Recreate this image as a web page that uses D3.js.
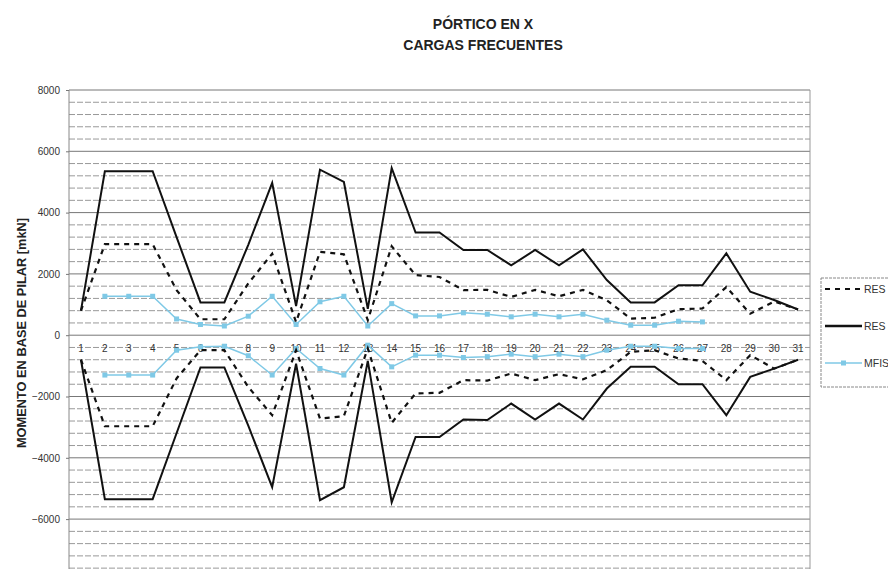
<!DOCTYPE html>
<html>
<head>
<meta charset="utf-8">
<script src="https://cdn.jsdelivr.net/npm/d3@7"></script>
<style>
  html, body { margin: 0; padding: 0; background: #fff; }
  svg { display: block; font-family: "Liberation Sans", Arial, sans-serif; }
</style>
</head>
<body>
<svg id="chart" width="888" height="569"></svg>
<script>
// ---- data ----
const categories = d3.range(1, 32).map(String);
const yTicks = [-6000, -4000, -2000, 0, 2000, 4000, 6000, 8000];

const resSolidPos = [800, 5350, 5350, 5350, 3200, 1070, 1070, 2950, 4970, 950, 5400, 5000, 860, 5450, 3350, 3350, 2780, 2780, 2280, 2780, 2280, 2800, 1800, 1070, 1070, 1630, 1630, 2670, 1420, 1150, 840];
const resSolidNeg = [-800, -5350, -5350, -5350, -3200, -1050, -1050, -2950, -4960, -930, -5380, -4960, -840, -5450, -3320, -3320, -2750, -2770, -2230, -2750, -2230, -2750, -1740, -1030, -1030, -1600, -1600, -2610, -1360, -1090, -800];
const resDashPos = [800, 2970, 2970, 2970, 1470, 520, 520, 1690, 2660, 430, 2720, 2640, 490, 2900, 1960, 1900, 1470, 1480, 1250, 1480, 1270, 1480, 1140, 540, 570, 850, 870, 1570, 700, 1100, 840];
const resDashNeg = [-800, -2970, -2970, -2970, -1410, -490, -490, -1690, -2610, -490, -2720, -2640, -434, -2860, -1900, -1880, -1467, -1480, -1250, -1467, -1270, -1440, -1140, -543, -490, -760, -840, -1467, -652, -1090, -800];
// MFIS starts at pilar 2 and ends at pilar 27
const mfisPos = [null, 1270, 1270, 1270, 530, 350, 300, 620, 1270, 350, 1090, 1270, 300, 1030, 630, 630, 730, 685, 600, 685, 600, 685, 490, 326, 326, 456, 434, null, null, null, null];
const mfisNeg = [null, -1300, -1300, -1300, -490, -380, -360, -670, -1300, -434, -1087, -1300, -326, -1032, -652, -652, -728, -700, -620, -700, -620, -700, -489, -360, -360, -434, -434, null, null, null, null];
const legendLabels = ["RES", "RES", "MFIS"];
const titleLines = ["PÓRTICO EN X", "CARGAS FRECUENTES"];
const yTitle = "MOMENTO EN BASE DE PILAR [mkN]";

// ---- layout ----
const svg = d3.select("#chart");
const plotLeft = 69, plotRight = 810, plotTop = 90;
const y = d3.scaleLinear().domain([-8000, 8000]).range([580.4, plotTop]);
const x = d3.scaleBand().domain(categories).range([plotLeft, plotRight]).paddingInner(0).paddingOuter(0);
const cx = c => x(c) + x.bandwidth() / 2;

// title
svg.append("g").selectAll("text").data(titleLines).join("text")
  .attr("x", 483).attr("y", (d, i) => 29 + i * 21)
  .attr("text-anchor", "middle")
  .attr("font-size", 14).attr("font-weight", "bold").attr("fill", "#222")
  .text(d => d);

// grid lines every 400
const gridVals = d3.range(-8000, 8001, 400);
svg.append("g").selectAll("line").data(gridVals).join("line")
  .attr("x1", plotLeft).attr("x2", plotRight)
  .attr("y1", d => y(d)).attr("y2", d => y(d))
  .attr("stroke", d => d % 2000 === 0 ? "#777" : "#999")
  .attr("stroke-width", 1)
  .attr("stroke-dasharray", d => d % 2000 === 0 ? null : "6,2");

// plot border
svg.append("line").attr("x1", plotLeft).attr("x2", plotLeft).attr("y1", plotTop).attr("y2", 569).attr("stroke", "#888");
svg.append("line").attr("x1", plotRight).attr("x2", plotRight).attr("y1", plotTop).attr("y2", 569).attr("stroke", "#999");

// y axis
const yAxis = d3.axisLeft(y).tickValues(yTicks).tickSize(3).tickPadding(6).tickFormat(d3.format("d"));
const gy = svg.append("g").attr("transform", `translate(${plotLeft},0)`).call(yAxis);
gy.select(".domain").remove();
gy.selectAll(".tick line").attr("stroke", "#777");
gy.selectAll(".tick text").attr("font-size", 10).attr("fill", "#333")
  .attr("font-family", "'Liberation Sans', Arial, sans-serif");

// y title
svg.append("text")
  .attr("transform", `translate(26,333) rotate(-90)`)
  .attr("text-anchor", "middle")
  .attr("font-size", 12.8).attr("font-weight", "bold").attr("fill", "#222")
  .text(yTitle);

// category labels near zero line
svg.append("g").selectAll("text").data(categories).join("text")
  .attr("x", d => cx(d)).attr("y", y(0) + 17)
  .attr("text-anchor", "middle").attr("font-size", 10).attr("fill", "#333")
  .text(d => d);

// lines
const lineGen = d3.line().defined(d => d.v !== null).x(d => cx(d.c)).y(d => y(d.v));
const toPts = arr => arr.map((v, i) => ({ c: categories[i], v }));

function drawLine(arr, stroke, width, dash) {
  svg.append("path").datum(toPts(arr))
    .attr("fill", "none").attr("stroke", stroke).attr("stroke-width", width)
    .attr("stroke-dasharray", dash).attr("stroke-linejoin", "miter")
    .attr("d", lineGen);
}
const blue = "#7fc9e6";
drawLine(mfisPos, blue, 1.5, null);
drawLine(mfisNeg, blue, 1.5, null);
[mfisPos, mfisNeg].forEach(arr => {
  svg.append("g").selectAll("rect").data(toPts(arr).filter(d => d.v !== null)).join("rect")
    .attr("x", d => cx(d.c) - 2.5).attr("y", d => y(d.v) - 2.5)
    .attr("width", 5).attr("height", 5).attr("fill", blue);
});
drawLine(resDashPos, "#111", 2.2, "5,5");
drawLine(resDashNeg, "#111", 2.2, "5,5");
drawLine(resSolidPos, "#111", 2, null);
drawLine(resSolidNeg, "#111", 2, null);

// legend
const lg = svg.append("g");
lg.append("rect").attr("x", 821).attr("y", 278).attr("width", 80).attr("height", 109)
  .attr("fill", "#fff").attr("stroke", "#888").attr("stroke-dasharray", "3,1");
const legendY = [289, 326, 363];
const legendStyles = [
  { stroke: "#111", w: 2.2, dash: "5,5", marker: false },
  { stroke: "#111", w: 2.5, dash: null, marker: false },
  { stroke: blue, w: 1.5, dash: null, marker: true }
];
legendLabels.forEach((lab, i) => {
  const s = legendStyles[i];
  lg.append("line").attr("x1", 825).attr("x2", 862).attr("y1", legendY[i]).attr("y2", legendY[i])
    .attr("stroke", s.stroke).attr("stroke-width", s.w).attr("stroke-dasharray", s.dash);
  if (s.marker) lg.append("rect").attr("x", 841).attr("y", legendY[i] - 2.5).attr("width", 5).attr("height", 5).attr("fill", blue);
  lg.append("text").attr("x", 864).attr("y", legendY[i]).attr("dy", "0.35em")
    .attr("font-size", 10.5).attr("fill", "#333").text(lab);
});
</script>
</body>
</html>
